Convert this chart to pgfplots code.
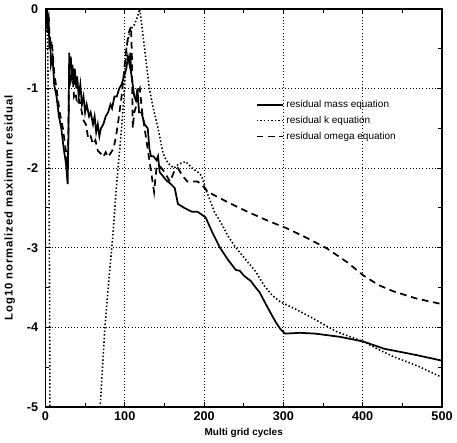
\documentclass[border=0pt]{standalone}
\usepackage{fontspec}
\setmainfont{Liberation Sans}
\usepackage{pgfplots}
\pgfplotsset{compat=1.18}

\begin{document}
\begin{tikzpicture}
\begin{axis}[
    scale only axis,
    width=298pt,
    height=299pt,
    xmin=0, xmax=500,
    ymin=-5, ymax=0,
    xtick={0,100,...,500},
    ytick={-5,-4,...,0},
    minor xtick={50,150,...,450},
    minor ytick={-4.5,-3.5,...,-0.5},
    tick align=inside,
    major tick length=4pt,
    minor tick length=3pt,
    grid=major,
    major grid style={draw=black, dotted, line width=0.75pt},
    axis line style={line width=1.2pt},
    every tick/.style={black, line width=0.8pt},
    tick label style={font=\fontsize{9.5}{11}\selectfont\bfseries},
    yticklabel style={xshift=-2pt},
    /pgf/number format/assume math mode=true,
    xlabel={Multi grid cycles},
    ylabel={Log10 normalized maximum residual},
    xlabel style={font=\fontsize{7.5}{9}\selectfont\bfseries, yshift=1pt},
    ylabel style={font=\fontsize{8.5}{10}\selectfont\bfseries\addfontfeatures{LetterSpace=8}, yshift=2pt},
    legend style={at={(0.52,0.785)}, anchor=north west, draw=none, fill=none,
        font=\fontsize{7.5}{9}\selectfont, row sep=1pt},
    legend cell align=left,
    legend image post style={xscale=1.15},
    clip=true,
]

\addplot[black, line width=1.3pt] coordinates {
(0,0)(1,-0.15)(2,0.0)(3,-0.3)(4,-0.1)(5,-0.5)(6,-0.35)(7,-0.7)(9,-0.6)(11,-0.95)
(14,-1.1)(17,-1.35)(20,-1.5)(23,-1.75)(26,-1.95)(28,-2.2)(29,-1.6)(30,-0.55)
(31,-0.75)(32,-0.6)(33,-0.9)(34,-0.7)(36,-0.95)(37,-0.75)(39,-1.0)(40,-0.85)
(42,-1.1)(44,-0.95)(46,-1.2)(48,-1.1)(50,-1.3)(52,-1.2)(55,-1.35)(57,-1.3)
(60,-1.45)(62,-1.35)(64,-1.55)(66,-1.45)(68,-1.6)(70,-1.5)(73,-1.45)(76,-1.35)
(79,-1.3)(82,-1.2)(84,-1.25)(87,-1.1)(90,-1.1)(93,-1.0)(96,-0.95)(99,-0.85)
(102,-0.75)(104,-0.6)(106,-0.7)(107,-0.55)(108,-0.8)(110,-0.95)(112,-1.1)
(114,-1.15)(116,-1.0)(118,-1.3)(121,-1.3)(125,-1.45)(129,-1.5)(131,-1.75)
(133,-1.85)(136,-1.85)(140,-1.9)(142,-1.85)(144,-2.05)(148,-2.1)(152,-2.15)
(158,-2.2)(163,-2.25)(167,-2.45)(175,-2.5)(185,-2.55)(192,-2.55)(202,-2.62)
(210,-2.8)(220,-3.0)(230,-3.15)(240,-3.28)(245,-3.29)(250,-3.35)(259,-3.42)
(265,-3.5)(270,-3.56)(280,-3.75)(290,-3.93)(296,-4.02)(302,-4.08)(321,-4.07)
(340,-4.08)(371,-4.12)(401,-4.18)(427,-4.27)(468,-4.35)(500,-4.42)
};
\addlegendentry{residual mass equation}

\addplot[black, line width=1.2pt, dash pattern=on 1.1pt off 1.6pt] coordinates {
(0,0)(1,-0.3)(2,-0.1)(3,-0.6)(4,-1.5)(5,-3)(6,-6)(66,-6)(69,-5)(72,-4.5)
(75,-4.0)(80,-3.4)(85,-2.85)(89,-2.3)(92,-1.95)(96,-1.5)(100,-0.95)(102,-0.5)
(105,-0.35)(108,-0.25)(112,-0.2)(116,-0.1)(119,0)(122,-0.25)(125,-0.5)
(128,-0.75)(131,-1.0)(136,-1.25)(142,-1.5)(148,-1.8)(152,-1.9)(156,-1.95)
(162,-2.0)(168,-1.95)(177,-1.92)(185,-2.0)(192,-2.05)(197,-2.1)(202,-2.26)
(213,-2.55)(222,-2.7)(230,-2.85)(240,-3.0)(255,-3.18)(265,-3.3)(276,-3.48)
(286,-3.6)(296,-3.68)(315,-3.77)(334,-3.87)(350,-3.96)(368,-4.06)(401,-4.18)
(420,-4.28)(439,-4.37)(470,-4.49)(500,-4.63)
};
\addlegendentry{residual k equation}

\addplot[black, line width=1.3pt, dash pattern=on 5pt off 3.5pt] coordinates {
(0,0)(2,-0.2)(4,-0.1)(6,-0.5)(8,-0.4)(11,-0.8)(14,-1.0)(18,-1.3)(22,-1.5)
(26,-1.8)(28,-2.0)(29,-1.5)(30,-0.7)(32,-0.9)(34,-0.8)(36,-1.1)(38,-1.05)
(40,-1.2)(43,-1.15)(46,-1.3)(48,-1.4)(51,-1.45)(54,-1.63)(57,-1.6)(60,-1.7)
(63,-1.65)(66,-1.78)(70,-1.82)(73,-1.86)(76,-1.8)(79,-1.86)(83,-1.8)(86,-1.75)
(89,-1.6)(92,-1.4)(96,-1.1)(99,-0.8)(102,-0.5)(105,-0.3)(108,-0.22)(109,-0.6)
(110,-1.5)(112,-1.3)(115,-1.2)(117,-1.05)(119,-1.0)(122,-1.3)(125,-1.5)
(127,-1.63)(131,-1.9)(134,-2.1)(137,-2.3)(140,-2.0)(144,-1.97)(150,-2.05)
(157,-2.17)(162,-2.05)(167,-2.0)(173,-2.1)(179,-2.17)(186,-2.17)(192,-2.17)
(198,-2.22)(205,-2.3)(230,-2.43)(255,-2.55)(280,-2.66)(305,-2.76)(330,-2.88)
(355,-3.01)(380,-3.18)(401,-3.35)(420,-3.47)(439,-3.55)(468,-3.64)(500,-3.71)
};
\addlegendentry{residual omega equation}

\end{axis}
\end{tikzpicture}
\end{document}
